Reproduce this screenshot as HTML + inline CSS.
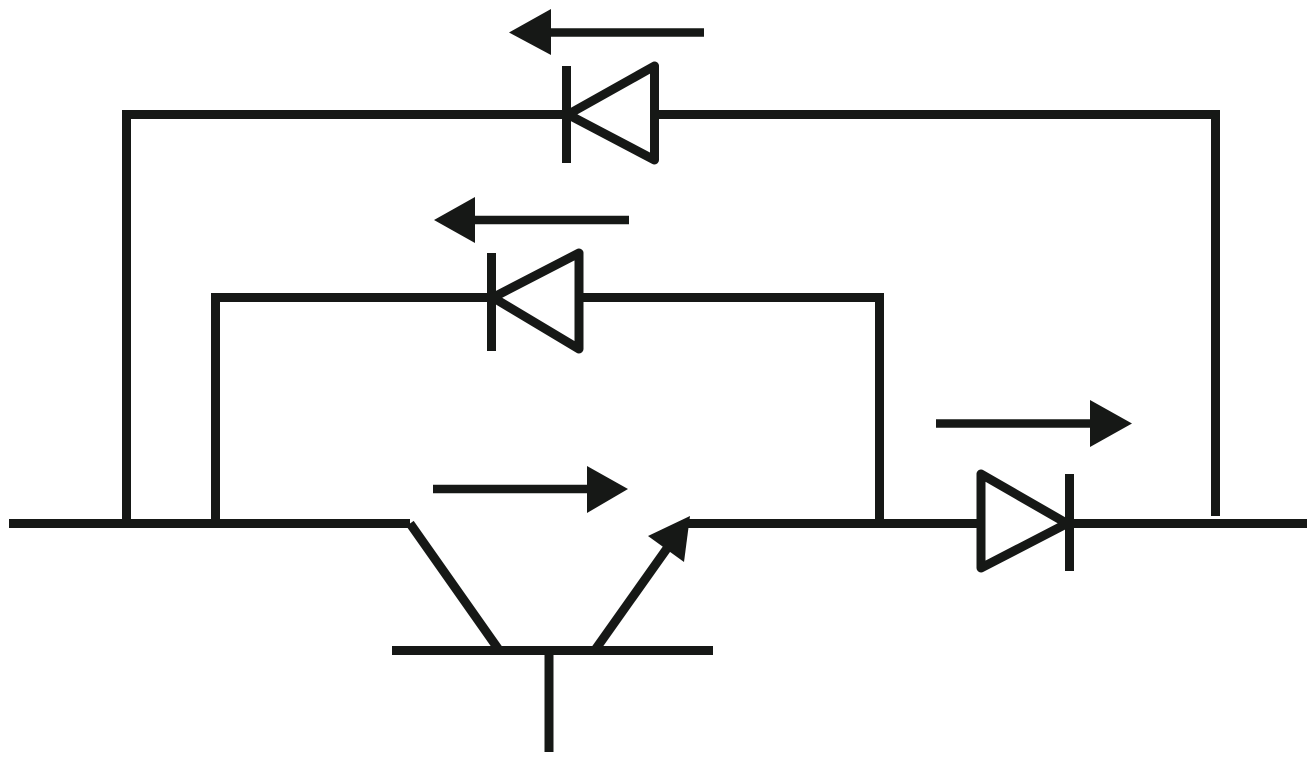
<!DOCTYPE html>
<html><head><meta charset="utf-8"><style>
html,body{margin:0;padding:0;background:#fff;}
svg{display:block;}
</style></head><body>
<svg width="1314" height="761" viewBox="0 0 1314 761" xmlns="http://www.w3.org/2000/svg">
<g stroke="#161816" stroke-width="9" fill="none" stroke-linecap="butt">
  <!-- outer loop -->
  <polyline points="126.5,523.5 126.5,114.5 566,114.5"/>
  <polyline points="654.5,114.5 1215.5,114.5 1215.5,516"/>
  <!-- inner loop -->
  <polyline points="215.5,523.5 215.5,297.5 491.5,297.5"/>
  <polyline points="579,297.5 879.5,297.5 879.5,523.5"/>
  <!-- main line -->
  <line x1="9" y1="523.5" x2="410" y2="523.5"/>
  <line x1="688" y1="523.5" x2="1307" y2="523.5"/>
  <!-- transistor -->
  <line x1="410" y1="523.5" x2="499" y2="650"/>
  <line x1="392" y1="650.5" x2="713" y2="650.5"/>
  <line x1="549" y1="650" x2="549" y2="752"/>
  <line x1="595" y1="650" x2="668" y2="547"/>
  <!-- top diode -->
  <line x1="566.5" y1="66" x2="566.5" y2="163"/>
  <polygon points="568,114.5 654.5,66 654.5,160" fill="#fff" stroke-linejoin="round"/>
  <!-- middle diode -->
  <line x1="491.5" y1="253" x2="491.5" y2="351"/>
  <polygon points="493,297.5 579,253 579,349" fill="#fff" stroke-linejoin="round"/>
  <!-- right diode -->
  <polygon points="981,474 981,568 1067,523.5" fill="#fff" stroke-linejoin="round"/>
  <line x1="1069.5" y1="474" x2="1069.5" y2="571"/>
  <!-- arrow shafts -->
  <line x1="549" y1="32.5" x2="704" y2="32.5" stroke-width="8.5"/>
  <line x1="473" y1="220" x2="629" y2="220" stroke-width="8.5"/>
  <line x1="433" y1="489" x2="590" y2="489" stroke-width="8.5"/>
  <line x1="936" y1="423.5" x2="1092" y2="423.5" stroke-width="8.5"/>
</g>
<g fill="#161816">
  <polygon points="509,32.5 551,9 551,55"/>
  <polygon points="434,220 475,197 475,243"/>
  <polygon points="628,489 587,466 587,513"/>
  <polygon points="1132,423.5 1090,400 1090,447"/>
  <polygon points="690,516 648,536 684,562"/>
</g>
</svg>
</body></html>
